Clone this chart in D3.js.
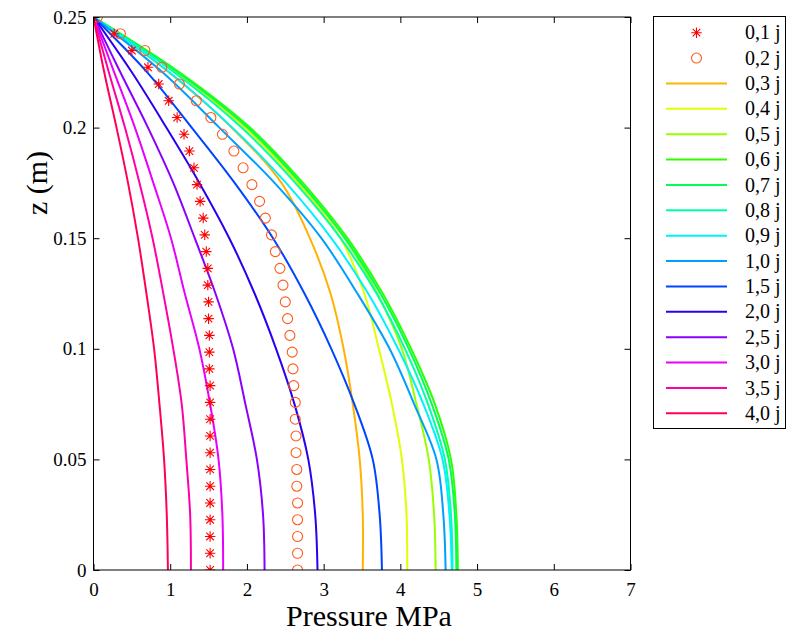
<!DOCTYPE html>
<html>
<head>
<meta charset="utf-8">
<script src="https://cdn.jsdelivr.net/npm/d3@7"></script>
<style>
  body { margin: 0; background: #fff; }
  svg { display: block; }
  text { font-family: "Liberation Serif", "Times New Roman", Times, serif; fill: #000; }
</style>
</head>
<body>
<svg id="chart" width="787" height="632"></svg>
<script>
// ---------------- data ----------------
const zLevels = [0, 0.025, 0.05, 0.075, 0.1, 0.125, 0.15, 0.175, 0.2, 0.225, 0.25];

const seriesNames = ["0,3 j","0,4 j","0,5 j","0,6 j","0,7 j","0,8 j","0,9 j","1,0 j","1,5 j","2,0 j","2,5 j","3,0 j","3,5 j","4,0 j"];
const seriesColors = ["#ffb300","#e0ff00","#99ff00","#2eff00","#00ff55","#00ffaa","#00f0ff","#009fff","#0044ff","#2a00f0","#8a00ff","#e800ff","#ff00a8","#ff0058"];

const p03 = [3.51, 3.51, 3.47, 3.38, 3.26, 3.09, 2.82, 2.45, 1.80, 0.98, 0];
const p04 = [4.09, 4.08, 4.02, 3.89, 3.72, 3.53, 3.22, 2.66, 1.97, 1.07, 0];
const p05 = [4.46, 4.44, 4.37, 4.21, 4.02, 3.70, 3.27, 2.69, 2.00, 1.09, 0];
const p06 = [4.75, 4.73, 4.66, 4.45, 4.14, 3.77, 3.31, 2.73, 2.04, 1.12, 0];
const p07 = [4.73, 4.71, 4.63, 4.41, 4.11, 3.74, 3.28, 2.70, 2.01, 1.10, 0];
const p08 = [4.68, 4.66, 4.58, 4.36, 4.06, 3.69, 3.22, 2.63, 1.93, 1.05, 0];
const p09 = [4.67, 4.64, 4.55, 4.30, 3.97, 3.58, 3.10, 2.51, 1.81, 0.99, 0];
const p10 = [4.59, 4.56, 4.47, 4.18, 3.86, 3.44, 2.97, 2.36, 1.64, 0.90, 0];
const p15 = [3.76, 3.73, 3.64, 3.40, 3.10, 2.75, 2.34, 1.84, 1.28, 0.70, 0];
const p20 = [2.92, 2.89, 2.80, 2.62, 2.38, 2.10, 1.77, 1.38, 0.95, 0.50, 0];
const p25 = [2.23, 2.21, 2.13, 1.98, 1.82, 1.59, 1.32, 1.04, 0.71, 0.35, 0];
const p30 = [1.69, 1.68, 1.63, 1.52, 1.38, 1.19, 1.01, 0.78, 0.54, 0.27, 0];
const p35 = [1.27, 1.26, 1.21, 1.15, 1.04, 0.91, 0.77, 0.60, 0.41, 0.20, 0];
const p40 = [0.97, 0.955, 0.92, 0.86, 0.79, 0.69, 0.58, 0.45, 0.30, 0.14, 0];
const lineSeries = [p03, p04, p05, p06, p07, p08, p09, p10, p15, p20, p25, p30, p35, p40];

// marker series (0,1 j asterisks, 0,2 j circles): values listed from top (z = 0.25) downward,
// at 34 equally spaced depths
const markerCount = 34;
const p01 = [0, 0.27, 0.50, 0.71, 0.85, 0.98, 1.09, 1.18, 1.25, 1.31, 1.35, 1.39, 1.43, 1.45, 1.47, 1.49, 1.49,
             1.50, 1.50, 1.51, 1.51, 1.51, 1.52, 1.52, 1.52, 1.52, 1.52, 1.52, 1.52, 1.52, 1.52, 1.52, 1.52, 1.52];
const p02 = [0.05, 0.35, 0.67, 0.89, 1.12, 1.34, 1.53, 1.68, 1.83, 1.95, 2.065, 2.165, 2.24, 2.32, 2.37, 2.43, 2.47,
             2.50, 2.53, 2.56, 2.59, 2.60, 2.61, 2.63, 2.63, 2.64, 2.64, 2.65, 2.65, 2.66, 2.66, 2.66, 2.66, 2.66];

const xTicks = [0, 1, 2, 3, 4, 5, 6, 7];
const yTicks = [0, 0.05, 0.1, 0.15, 0.2, 0.25];
const yTickLabels = ["0", "0.05", "0.1", "0.15", "0.2", "0.25"];
const xLabel = "Pressure MPa";
const yLabel = "z (m)";

// ---------------- layout ----------------
const FONT = '"Liberation Serif", "Times New Roman", Times, serif';
const svg = d3.select("#chart");
const L = 93.5, R = 630.5, T = 17, B = 570;
const x = d3.scaleLinear().domain([0, 7]).range([L, R]);
const y = d3.scaleLinear().domain([0, 0.25]).range([B, T]);
const zMarkers = d3.range(markerCount).map(i => 0.25 - i * 0.25 / (markerCount - 1));

svg.append("defs").append("clipPath").attr("id", "clip")
  .append("rect").attr("x", L).attr("y", T).attr("width", R - L).attr("height", B - T);

// asterisk symbol (plus + cross)
const asterisk = {
  draw(ctx, size) {
    const r = Math.sqrt(size) / 2;
    const d = r * 0.72;
    ctx.moveTo(-r, 0); ctx.lineTo(r, 0);
    ctx.moveTo(0, -r); ctx.lineTo(0, r);
    ctx.moveTo(-d, -d); ctx.lineTo(d, d);
    ctx.moveTo(-d, d); ctx.lineTo(d, -d);
  }
};
const astPath = d3.symbol().type(asterisk).size(110)();

const line = d3.line()
  .x(d => x(d[0]))
  .y(d => y(d[1]))
  .curve(d3.curveCatmullRom.alpha(0.5));

const plot = svg.append("g").attr("clip-path", "url(#clip)");

lineSeries.forEach((vals, i) => {
  const pts = zLevels.map((z, k) => [vals[k], z]);
  plot.append("path")
    .attr("d", line(pts))
    .attr("fill", "none")
    .attr("stroke", seriesColors[i])
    .attr("stroke-width", 2);
});

// circles 0,2 j
plot.append("g").selectAll("circle")
  .data(p02.map((p, i) => [p, zMarkers[i]]))
  .join("circle")
  .attr("cx", d => x(d[0]))
  .attr("cy", d => y(d[1]))
  .attr("r", 5)
  .attr("fill", "none")
  .attr("stroke", "#ff5a1e")
  .attr("stroke-width", 1.1);

// asterisks 0,1 j
plot.append("g").selectAll("path")
  .data(p01.map((p, i) => [p, zMarkers[i]]))
  .join("path")
  .attr("d", astPath)
  .attr("transform", d => `translate(${x(d[0])},${y(d[1])})`)
  .attr("fill", "none")
  .attr("stroke", "#ff0000")
  .attr("stroke-width", 1.1);

// ---------------- axes ----------------
const fontTick = 19;
const gx = svg.append("g").attr("transform", `translate(0,${B})`)
  .call(d3.axisBottom(x).tickValues(xTicks).tickFormat(d3.format("d")).tickSizeInner(-6).tickSizeOuter(0).tickPadding(13));
const gxTop = svg.append("g").attr("transform", `translate(0,${T})`)
  .call(d3.axisTop(x).tickValues(xTicks).tickFormat("").tickSizeInner(-6).tickSizeOuter(0));
const gy = svg.append("g").attr("transform", `translate(${L},0)`)
  .call(d3.axisLeft(y).tickValues(yTicks).tickFormat((d, i) => yTickLabels[i]).tickSizeInner(-6).tickSizeOuter(0).tickPadding(7));
const gyR = svg.append("g").attr("transform", `translate(${R},0)`)
  .call(d3.axisRight(y).tickValues(yTicks).tickFormat("").tickSizeInner(-6).tickSizeOuter(0));

[gx, gxTop, gy, gyR].forEach(g => {
  g.attr("font-family", FONT).attr("font-size", fontTick);
  g.select(".domain").remove();
  g.selectAll("line").attr("stroke", "#000").attr("stroke-width", 1);
  g.selectAll("text").attr("font-family", FONT).attr("font-size", fontTick).attr("fill", "#000");
});

svg.append("rect").attr("x", L).attr("y", T).attr("width", R - L).attr("height", B - T)
  .attr("fill", "none").attr("stroke", "#000").attr("stroke-width", 1);

svg.append("text").attr("x", 369).attr("y", 626).attr("text-anchor", "middle")
  .attr("font-family", FONT).attr("font-size", 30).text(xLabel);
svg.append("text").attr("transform", "translate(47,183) rotate(-90)").attr("text-anchor", "middle")
  .attr("font-family", FONT).attr("font-size", 30).text(yLabel);

// ---------------- legend ----------------
const lg = svg.append("g");
lg.append("rect").attr("x", 653.5).attr("y", 16.5).attr("width", 132).attr("height", 412)
  .attr("fill", "#fff").attr("stroke", "#000").attr("stroke-width", 1);
const legendNames = ["0,1 j", "0,2 j"].concat(seriesNames);
const ly = d3.scaleLinear().domain([0, legendNames.length - 1]).range([32.7, 413.3]);
legendNames.forEach((name, i) => {
  const yy = ly(i);
  if (i === 0) {
    lg.append("path").attr("d", astPath).attr("transform", `translate(696.5,${yy})`)
      .attr("fill", "none").attr("stroke", "#ff0000").attr("stroke-width", 1.1);
  } else if (i === 1) {
    lg.append("circle").attr("cx", 696.5).attr("cy", yy).attr("r", 5)
      .attr("fill", "none").attr("stroke", "#ff5a1e").attr("stroke-width", 1.1);
  } else {
    lg.append("line").attr("x1", 666).attr("x2", 727).attr("y1", yy).attr("y2", yy)
      .attr("stroke", seriesColors[i - 2]).attr("stroke-width", 2);
  }
  lg.append("text").attr("x", 745).attr("y", yy).attr("dy", "0.33em")
    .attr("font-family", FONT).attr("font-size", 20).text(name);
});
</script>
</body>
</html>
